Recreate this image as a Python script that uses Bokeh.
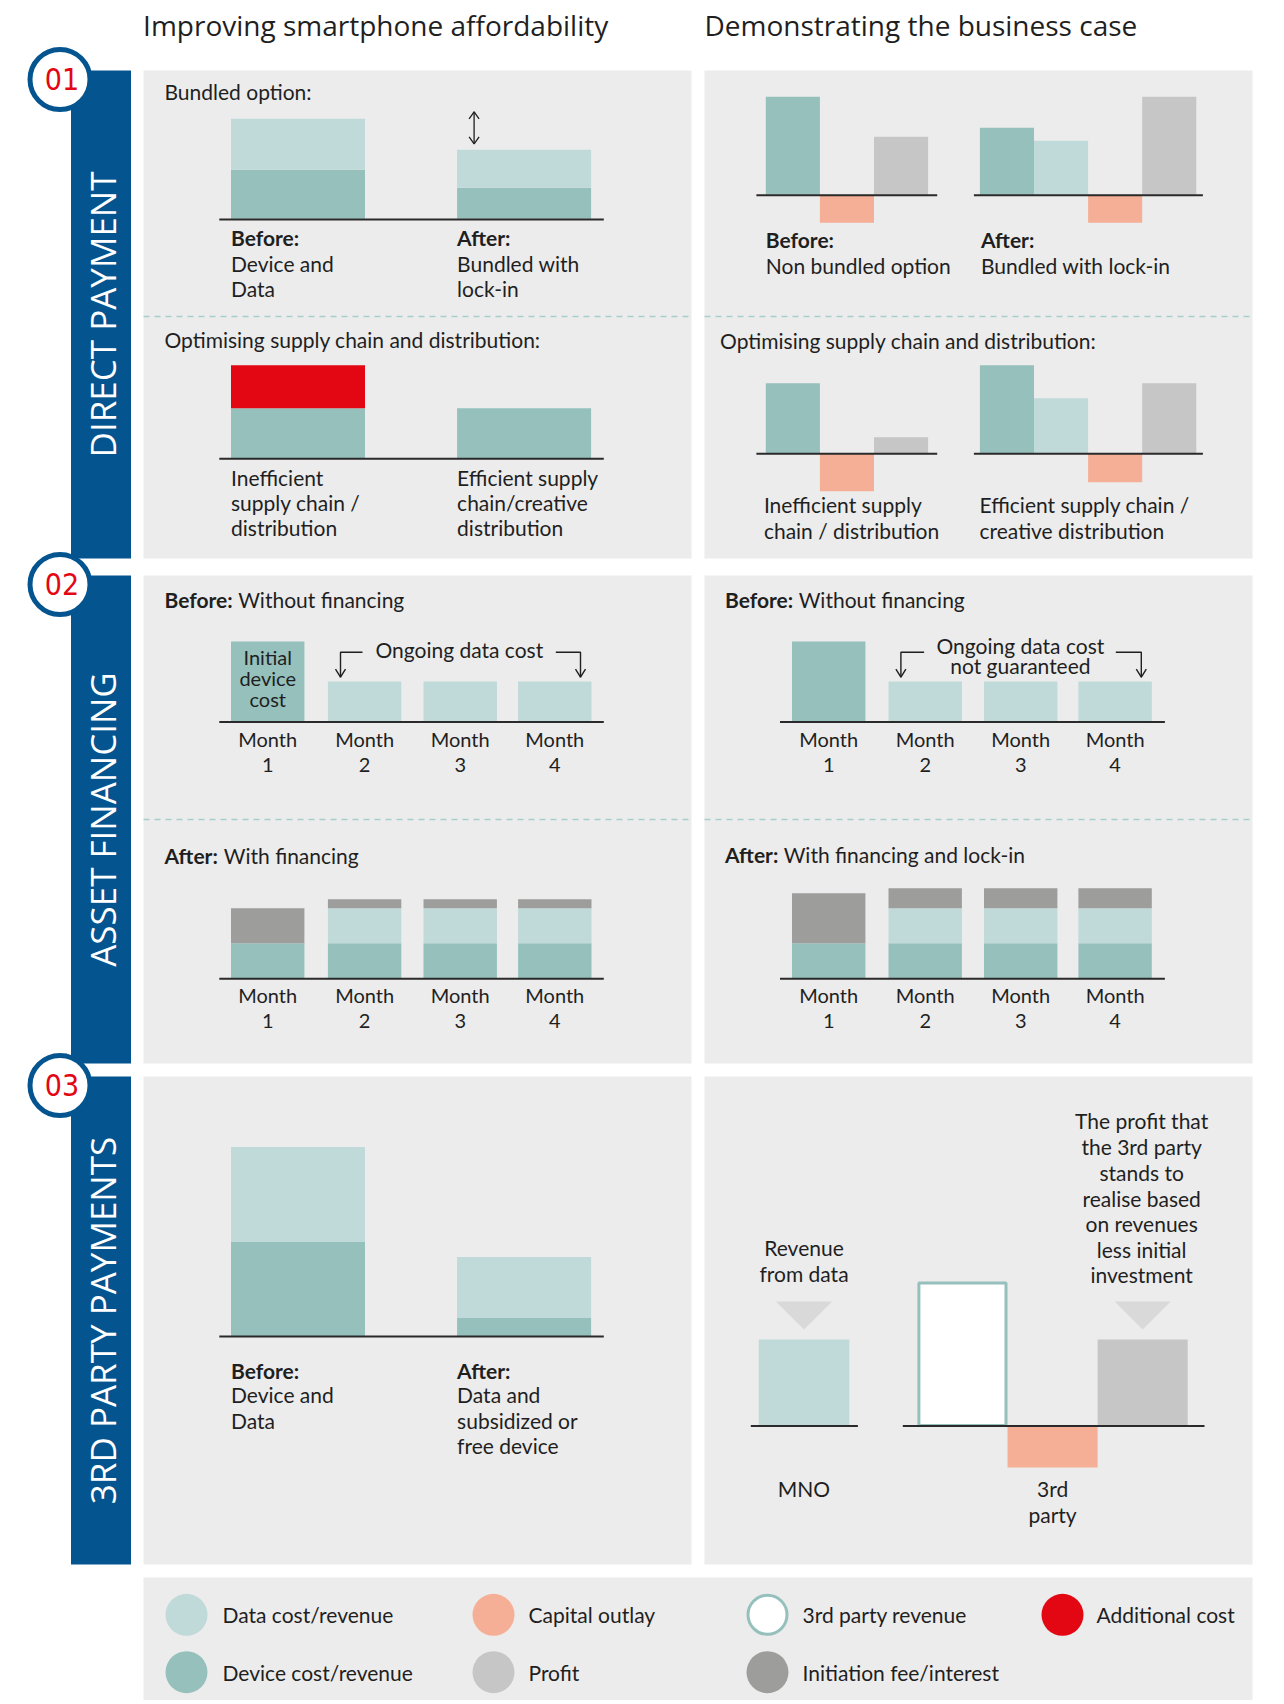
import numpy as np
from bokeh.plotting import figure
from bokeh.models import Range1d, ColumnDataSource
from bokeh.embed import file_html
from bokeh.resources import INLINE
from bokeh.core.properties import value

# ---------------- data (relative units) ----------------
col_titles = ["Improving smartphone affordability", "Demonstrating the business case"]
section_names = ["DIRECT PAYMENT", "ASSET FINANCING", "3RD PARTY PAYMENTS"]
section_nums = ["01", "02", "03"]

# 01 left: stacked (device, data)
bundle_labels = [["Before:", "Device and", "Data"], ["After:", "Bundled with", "lock-in"]]
bundle_device = [4.9, 3.1]
bundle_data = [5.1, 3.8]
supply_labels = [["Inefficient", "supply chain /", "distribution"],
                 ["Efficient supply", "chain/creative", "distribution"]]
supply_device = [5.0, 5.0]
supply_extra = [4.3, 0.0]

# 01 right: side-by-side series (device, data, capital outlay, profit); None = absent
case_series = ["device", "data", "capital", "profit"]
case_nonbundled = [9.8, None, -2.8, 5.8]
case_bundled = [6.7, 5.4, -2.8, 9.8]
case_ineff = [7.0, None, -3.8, 1.6]
case_eff = [8.8, 5.5, -2.9, 7.0]
case_bundle_labels = [["Before:", "Non bundled option"], ["After:", "Bundled with lock-in"]]
case_supply_labels = [["Inefficient supply", "chain / distribution"],
                      ["Efficient supply chain /", "creative distribution"]]

# 02: monthly stacks
months = ["1", "2", "3", "4"]
before_device = [8.0, 0.0, 0.0, 0.0]
before_data = [0.0, 4.0, 4.0, 4.0]
fin_device = [3.5, 3.5, 3.5, 3.5]
fin_data = [0.0, 3.5, 3.5, 3.5]
fin_fee = [3.5, 0.9, 0.9, 0.9]
lock_device = [3.5, 3.5, 3.5, 3.5]
lock_data = [0.0, 3.5, 3.5, 3.5]
lock_fee = [5.0, 2.0, 2.0, 2.0]

# 03
third_labels = [["Before:", "Device and", "Data"], ["After:", "Data and", "subsidized or", "free device"]]
third_device = [9.4, 1.8]
third_data = [9.5, 6.1]
mno_data = [8.6]
party_values = [14.4, -4.2, 8.6]   # 3rd party revenue, capital outlay, profit
profit_note = ["The profit that", "the 3rd party", "stands to", "realise based",
               "on revenues", "less initial", "investment"]

legend_labels = [["Data cost/revenue", "Capital outlay", "3rd party revenue", "Additional cost"],
                 ["Device cost/revenue", "Profit", "Initiation fee/interest"]]
legend_keys = [["data", "capital", "third", "extra"], ["device", "profit", "fee"]]

# ---------------- style ----------------
COL = dict(device="#95c0bc", data="#c0d9d9", capital="#f5af96", profit="#c6c6c6",
           fee="#9d9d9c", extra="#e30613", third="#ffffff")
BLUE = "#04548f"
PANEL = "#ececec"
INK = "#1f1f1f"
UNIT = 10.0
BODY = "Lato"
FS = 21
DY = -2.0   # small optical shift of body text

W, H = 1280, 1700
p = figure(width=W, height=H, x_range=Range1d(1, W + 1), y_range=Range1d(H, 0),
           output_backend="svg", toolbar_location=None, min_border=0)
p.axis.visible = False
p.grid.visible = False
p.outline_line_color = None
p.background_fill_color = "white"
p.border_fill_color = "white"


def txt(x, y, s, size=FS, bold=False, align="left", color=INK, font=BODY, angle=0.0, dy=DY):
    p.text(x=[x], y=[y + dy], text=[s], text_font=value(font), text_font_size=f"{size}px",
           text_font_style="bold" if bold else "normal", text_align=align,
           text_baseline="middle", text_color=color, angle=angle)


def box(l, r, t, b, color):
    p.quad(left=[l], right=[r], top=[t], bottom=[b], fill_color=color, line_color=None)


def stack(lefts, width, base, layers):
    n = len(lefts)
    cum = [0.0] * n
    for vals, key in layers:
        src = ColumnDataSource(dict(
            left=lefts, right=[l + width for l in lefts],
            bottom=[base - c * UNIT for c in cum],
            top=[base - (c + v) * UNIT for c, v in zip(cum, vals)]))
        p.quad(left="left", right="right", top="top", bottom="bottom", source=src,
               fill_color=COL[key], line_color=None)
        cum = [c + v for c, v in zip(cum, vals)]


def series(x0, slot, base, vals, keys):
    i = 0
    for k, v in zip(keys, vals):
        if v is None:
            continue
        l = x0 + i * slot
        t = base - max(v, 0) * UNIT
        b = base - min(v, 0) * UNIT
        if k == "third":
            p.quad(left=[l + 1.5], right=[l + slot - 1.5], top=[t + 1.5], bottom=[b],
                   fill_color="white", line_color=COL["device"], line_width=3)
        else:
            p.quad(left=[l], right=[l + slot], top=[t], bottom=[b], fill_color=COL[k], line_color=None)
        i += 1


def baseline(x0, x1, y):
    p.segment(x0=[x0], y0=[y], x1=[x1], y1=[y], line_color="#2a2a2a", line_width=2)


def arrow_down(xv, xh, yh, yend):
    p.line(x=[xh, xv, xv], y=[yh, yh, yend], line_color=INK, line_width=1.4)
    p.line(x=[xv - 5, xv, xv + 5], y=[yend - 8, yend, yend - 8], line_color=INK, line_width=1.4)


# ---------------- frame: panels, bars, badges ----------------
rows = [(70, 558), (575, 1063), (1076, 1564)]
cols = [(144, 692), (705, 1253)]
for (t, b) in rows:
    for (l, r) in cols:
        box(l, r, t, b, PANEL)
    box(71.5, 131.5, t, b, BLUE)
box(144, 1253, 1577, 1704, PANEL)

for (t, b), name in zip(rows, section_names):
    txt(103, (t + b) / 2, name, size=35, align="center", color="white",
        font="Open Sans", angle=np.pi / 2, dy=0)

for (t, b), num in zip(rows, section_nums):
    p.scatter(x=[60.5], y=[t + 9], size=60, marker="circle", fill_color="white",
              line_color=BLUE, line_width=5)
    txt(62.5, t + 8, num, size=30, align="center", color="#e30613",
        font="DejaVu Sans Condensed, Roboto, sans-serif", dy=0)

txt(143.6, 26, col_titles[0], size=28, font="Open Sans")
txt(705, 26, col_titles[1], size=28, font="Open Sans")

for y in (316, 819):
    for (l, r) in cols:
        p.line(x=[l, r], y=[y, y], line_color="#a6cfca", line_width=1.3, line_dash="6 5")

# ---------------- 01 left ----------------
bl = [231.5, 457.6]
txt(165, 92.7, "Bundled option:")
stack(bl, 134, 218.3, [(bundle_device, "device"), (bundle_data, "data")])
baseline(219.8, 604.3, 219)
for x, lines in zip(bl, bundle_labels):
    for j, (s, y) in enumerate(zip(lines, [239, 265, 290])):
        txt(x, y, s, bold=(j == 0))
ax = bl[1] + 17
at = 218.3 - (bundle_device[1] + bundle_data[1]) * UNIT
p.line(x=[ax, ax], y=[at - 38, at - 6], line_color=INK, line_width=1.3)
p.line(x=[ax - 5, ax, ax + 5], y=[at - 31, at - 38, at - 31], line_color=INK, line_width=1.3)
p.line(x=[ax - 5, ax, ax + 5], y=[at - 13, at - 6, at - 13], line_color=INK, line_width=1.3)

txt(165, 341, "Optimising supply chain and distribution:")
stack(bl, 134, 457.7, [(supply_device, "device"), (supply_extra, "extra")])
baseline(219.8, 604.3, 458.3)
for x, lines in zip(bl, supply_labels):
    for s, y in zip(lines, [479, 504, 529]):
        txt(x, y, s)

# ---------------- 01 right ----------------
gx = [766.3, 980.4]
series(gx[0], 54.1, 194.3, case_nonbundled, case_series)
series(gx[1], 54.1, 194.3, case_bundled, case_series)
baseline(756.9, 937.7, 194.8)
baseline(974.4, 1203.4, 194.8)
for x, lines in zip([766.3, 981.5], case_bundle_labels):
    for j, (s, y) in enumerate(zip(lines, [241, 266.7])):
        txt(x, y, s, bold=(j == 0))

txt(720.6, 342, "Optimising supply chain and distribution:")
series(gx[0], 54.1, 452.7, case_ineff, case_series)
series(gx[1], 54.1, 452.7, case_eff, case_series)
baseline(756.9, 937.7, 453.2)
baseline(974.4, 1203.4, 453.2)
for x, lines in zip([764.4, 980], case_supply_labels):
    for s, y in zip(lines, [506, 531.7]):
        txt(x, y, s)

# ---------------- 02 ----------------
ml = [231.5, 328.4, 424.0, 518.6]
mr = [792.5, 889.0, 984.5, 1078.9]
MW = 73.4

def month_labels(lefts, y1, y2):
    for l, m in zip(lefts, months):
        txt(l + MW / 2, y1, "Month", size=20, align="center")
        txt(l + MW / 2, y2, m, size=20, align="center")

# before, left
txt(165, 600.7, "Before:", bold=True)
txt(238.7, 600.7, "Without financing")
stack(ml, MW, 721, [(before_device, "device"), (before_data, "data")])
baseline(219.8, 604.3, 721.5)
for s, y in zip(["Initial", "device", "cost"], [658, 679, 700]):
    txt(ml[0] + MW / 2, y, s, size=20, align="center")
txt(459.8, 650.7, "Ongoing data cost", align="center")
arrow_down(341, 363, 651.7, 676.7)
arrow_down(581, 556.3, 651.7, 676.7)
month_labels(ml, 740.3, 766.7)

# before, right
txt(725.5, 600.7, "Before:", bold=True)
txt(799.2, 600.7, "Without financing")
stack(mr, MW, 721, [(before_device, "device"), (before_data, "data")])
baseline(780.5, 1165.4, 721.5)
txt(1020.9, 646.7, "Ongoing data cost", align="center")
txt(1020.9, 667.3, "not guaranteed", align="center")
arrow_down(901.4, 924.6, 651.7, 676.7)
arrow_down(1141.8, 1116.3, 651.7, 676.7)
month_labels(mr, 740.3, 766.7)

# after, left
txt(165, 856.7, "After:", bold=True)
txt(224.3, 856.7, "With financing")
stack(ml, MW, 977.7, [(fin_device, "device"), (fin_data, "data"), (fin_fee, "fee")])
baseline(219.8, 604.3, 978.2)
month_labels(ml, 996.7, 1022.7)

# after, right
txt(725.5, 856.2, "After:", bold=True)
txt(784.2, 856.2, "With financing and lock-in")
stack(mr, MW, 977.7, [(lock_device, "device"), (lock_data, "data"), (lock_fee, "fee")])
baseline(780.5, 1165.4, 978.2)
month_labels(mr, 996.7, 1022.7)

# ---------------- 03 ----------------
stack(bl, 134, 1335.5, [(third_device, "device"), (third_data, "data")])
baseline(219.8, 604.3, 1336)
for x, lines in zip(bl, third_labels):
    for j, (s, y) in enumerate(zip(lines, [1371.7, 1396, 1421.7, 1446.7])):
        txt(x, y, s, bold=(j == 0))

mno_l, mno_w = 759.2, 90.6
stack([mno_l], mno_w, 1425, [(mno_data, "data")])
baseline(751.3, 858.4, 1425.5)
px0, pslot = 917.9, 90.1
series(px0, pslot, 1425, party_values, ["third", "capital", "profit"])
baseline(903.3, 1205, 1425.5)

tri_centers = [mno_l + mno_w / 2, px0 + 2.5 * pslot]
p.patches(xs=[[c - 28, c + 28, c] for c in tri_centers],
          ys=[[1301, 1301, 1329] for _ in tri_centers], fill_color="#d9d9d9", line_color=None)
for s, y in zip(["Revenue", "from data"], [1249.3, 1275]):
    txt(tri_centers[0], y, s, align="center")
for s, y in zip(profit_note, [1122.3, 1148.3, 1174, 1199.5, 1225, 1250.5, 1275.7]):
    txt(tri_centers[1] - 1, y, s, align="center")
txt(tri_centers[0], 1490, "MNO", align="center")
txt(px0 + 1.5 * pslot, 1490, "3rd", align="center")
txt(px0 + 1.5 * pslot, 1516, "party", align="center")

# ---------------- legend ----------------
lx_c = [187, 494, 768, 1063]
lx_t = [223, 529, 803, 1097]
for row_labels, row_keys, y in zip(legend_labels, legend_keys, [1614.3, 1671.7]):
    for i, (lab, key) in enumerate(zip(row_labels, row_keys)):
        if key == "third":
            p.scatter(x=[lx_c[i]], y=[y], size=39, marker="circle", fill_color="white",
                      line_color=COL["device"], line_width=3)
        else:
            p.scatter(x=[lx_c[i]], y=[y], size=42, marker="circle", fill_color=COL[key],
                      line_color=None)
        txt(lx_t[i], y, lab, dy=0)

open("out.html", "w").write(file_html(p, INLINE))
